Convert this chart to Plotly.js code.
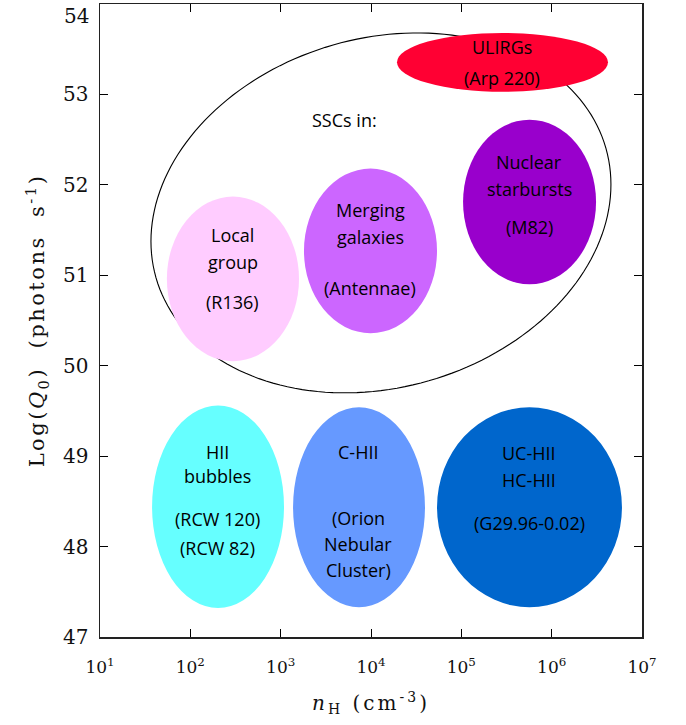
<!DOCTYPE html>
<html>
<head>
<meta charset="utf-8">
<script src="https://cdn.plot.ly/plotly-3.0.1.min.js"></script>
<style>
html,body{margin:0;padding:0;background:#fff;}
#chart{width:686px;height:725px;}
.ytitle{letter-spacing:2.5px;}
.xtitle{letter-spacing:3px;}
</style>
</head>
<body>
<div id="chart"></div>
<script>
// ---- Data: regions in (n_H, log Q0) space ----
var regionNames = ["SSC outline", "ULIRGs", "Local group", "Merging galaxies", "Nuclear starbursts", "HII bubbles", "C-HII", "UC-HII / HC-HII"];
var nHMin   = [null, 19400, 55, 1811, 104500, 37.7, 1371, 53800];
var nHMax   = [null, 4.2e6, 1596, 53800, 3.1e6, 1089, 39600, 6.0e6];
var logQMin = [null, 53.03, 50.05, 50.36, 50.90, 47.32, 47.33, 47.33];
var logQMax = [null, 53.68, 51.87, 52.18, 52.72, 49.56, 49.54, 49.54];
var fillColors = [null, "#FF0033", "#FFCCFF", "#CC66FF", "#9900CC", "#66FFFF", "#6699FF", "#0066CC"];

// tilted "SSCs in" envelope: centre (log nH, logQ), semi-axes and correlation term
var sscCenterLogNH = 4.11;
var sscCenterLogQ = 51.69;
var sscSpreadLogNH = 2.546;
var sscSpreadLogQ = 1.99;
var sscCovariance = 0.80;

// labels: text, log10(nH) position, logQ position
var labelText = ["SSCs in:", "ULIRGs", "(Arp 220)", "Local", "group", "(R136)",
  "Merging", "galaxies", "(Antennae)", "Nuclear", "starbursts", "(M82)",
  "HII", "bubbles", "(RCW 120)", "(RCW 82)",
  "C-HII", "(Orion", "Nebular", "Cluster)",
  "UC-HII", "HC-HII", "(G29.96-0.02)"];
var labelLogNH = [3.71, 5.45, 5.45, 2.47, 2.47, 2.47,
  3.99, 3.99, 3.99, 5.75, 5.75, 5.75,
  2.30, 2.30, 2.30, 2.30,
  3.86, 3.86, 3.86, 3.86,
  5.75, 5.75, 5.75];
var labelLogQ = [52.72, 53.52, 53.18, 51.45, 51.15, 50.71,
  51.72, 51.42, 50.86, 52.25, 51.95, 51.53,
  49.05, 48.78, 48.31, 47.98,
  49.05, 48.32, 48.03, 47.74,
  49.04, 48.74, 48.26];

var xTickVals = [1e1, 1e2, 1e3, 1e4, 1e5, 1e6, 1e7];
var xTickText = ["10<sup>1</sup>", "10<sup>2</sup>", "10<sup>3</sup>", "10<sup>4</sup>", "10<sup>5</sup>", "10<sup>6</sup>", "10<sup>7</sup>"];
var yTickVals = [47, 48, 49, 50, 51, 52, 53, 54];
var yTickText = ["47", "48", "49", "50", "51", "52", "53", "54"];

// ---- Build shapes ----
var shapes = [];
var ax = sscSpreadLogNH, ay = sscCovariance / sscSpreadLogNH;
var by = Math.sqrt(sscSpreadLogQ * sscSpreadLogQ - ay * ay);
var path = "";
var N = 180;
for (var k = 0; k <= N; k++) {
  var t = 2 * Math.PI * k / N;
  var lx = sscCenterLogNH + ax * Math.cos(t);
  var ly = sscCenterLogQ + ay * Math.cos(t) + by * Math.sin(t);
  path += (k === 0 ? "M" : "L") + Math.pow(10, lx) + "," + ly;
}
path += "Z";
shapes.push({type: "path", xref: "x", yref: "y", path: path,
  line: {color: "#000", width: 1.1}, fillcolor: "rgba(0,0,0,0)", layer: "above"});

for (var i = 1; i < regionNames.length; i++) {
  shapes.push({type: "circle", xref: "x", yref: "y",
    x0: nHMin[i], x1: nHMax[i], y0: logQMin[i], y1: logQMax[i],
    fillcolor: fillColors[i], line: {width: 0}, layer: "above"});
}

var annotations = [];
for (var j = 0; j < labelText.length; j++) {
  annotations.push({x: labelLogNH[j], y: labelLogQ[j], xref: "x", yref: "y",
    text: labelText[j], showarrow: false, xanchor: "center", yanchor: "middle",
    font: {family: "Open Sans, Noto Sans, sans-serif", size: 18, color: "#000"}});
}
// top tick label sits just inside the frame (as in the reference)
var topIdx = yTickVals.length - 1;
annotations.push({x: 0, y: yTickVals[topIdx], xref: "paper", yref: "y",
  text: yTickText[topIdx], showarrow: false, xanchor: "right", yanchor: "top",
  xshift: -9, yshift: 2, cliponaxis: false,
  font: {family: "DejaVu Serif, serif", size: 20, color: "#111"}});
var yTickTextAxis = yTickText.slice(0, topIdx).concat([""]);

var traces = [{x: [10, 1e7], y: [47, 54], mode: "markers", marker: {opacity: 0}, hoverinfo: "skip", showlegend: false}];

var layout = {
  width: 686, height: 725,
  margin: {l: 100, r: 44, t: 4, b: 88},
  paper_bgcolor: "#fff", plot_bgcolor: "#fff",
  showlegend: false,
  xaxis: {
    type: "log", range: [1, 7], tickmode: "array", tickvals: xTickVals, ticktext: xTickText,
    ticks: "inside", ticklen: 8, tickwidth: 1, tickcolor: "#000",
    showline: true, linecolor: "#222", linewidth: 1.5, mirror: "ticks",
    showgrid: false, zeroline: false, ticklabelstandoff: 14,
    tickfont: {family: "DejaVu Serif, serif", size: 17, color: "#111"},
    title: {text: "<i>n</i><sub>H</sub> (cm<sup>-3</sup>)", standoff: 20,
      font: {family: "DejaVu Serif, serif", size: 20, color: "#111"}}
  },
  yaxis: {
    range: [47, 54], tickmode: "array", tickvals: yTickVals, ticktext: yTickTextAxis,
    ticks: "inside", ticklen: 8, tickwidth: 1, tickcolor: "#000",
    showline: true, linecolor: "#222", linewidth: 1.5, mirror: "ticks",
    showgrid: false, zeroline: false, ticklabelstandoff: 6,
    tickfont: {family: "DejaVu Serif, serif", size: 20, color: "#111"},
    title: {text: "Log(<i>Q</i><sub>0</sub>)  (photons  s<sup>-1</sup>)", standoff: 12,
      font: {family: "DejaVu Serif, serif", size: 21, color: "#111"}}
  },
  shapes: shapes,
  annotations: annotations
};

Plotly.newPlot("chart", traces, layout, {displayModeBar: false, staticPlot: true});
</script>
</body>
</html>
